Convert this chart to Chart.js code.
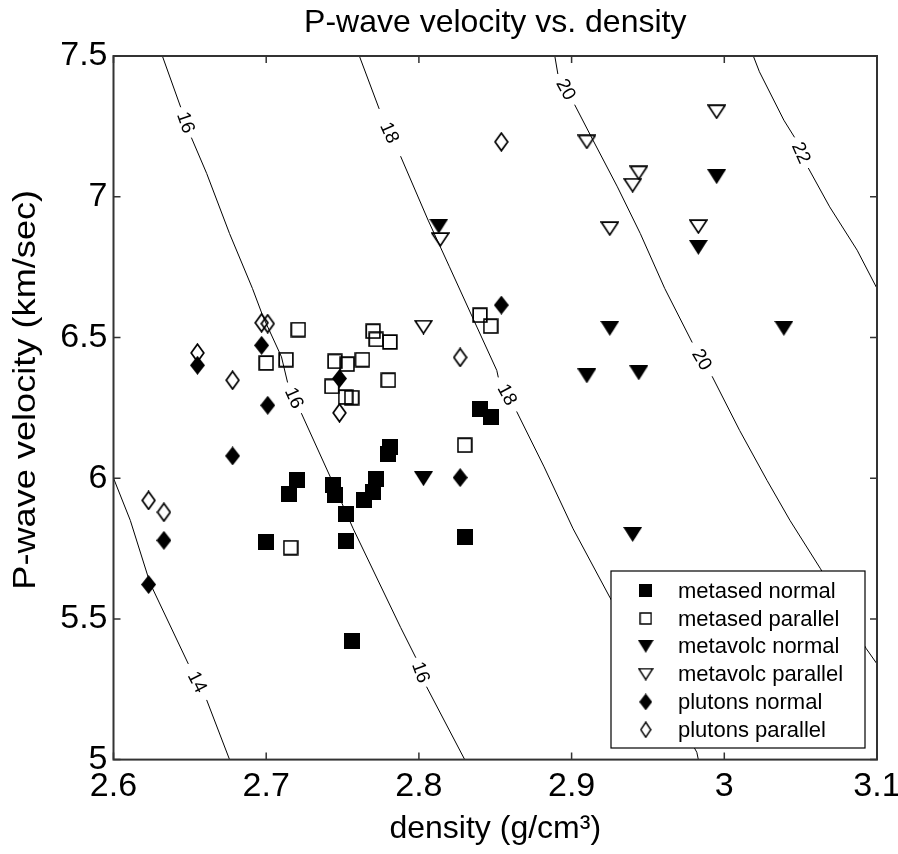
<!DOCTYPE html>
<html>
<head>
<meta charset="utf-8">
<title>P-wave velocity vs. density</title>
<script src="https://cdn.jsdelivr.net/npm/chart.js@4.4.1/dist/chart.umd.min.js"></script>
<style>
  html, body { margin: 0; padding: 0; background: #fff; }
  #chart { display: block; }
</style>
</head>
<body>
<canvas id="chart" width="898" height="854"></canvas>
<script>
// Measured samples: [density (g/cm3), P-wave velocity (km/s)]
const metasedNormal = [
  [2.700, 5.772], [2.715, 5.945], [2.720, 5.995], [2.744, 5.974], [2.745, 5.939],
  [2.752, 5.874], [2.752, 5.776], [2.756, 5.423], [2.764, 5.924], [2.770, 5.951],
  [2.772, 5.998], [2.780, 6.087], [2.781, 6.111], [2.830, 5.791], [2.840, 6.247],
  [2.847, 6.217]
];
const metasedParallel = [
  [2.700, 6.409], [2.713, 6.421], [2.716, 5.753], [2.721, 6.528], [2.743, 6.326],
  [2.745, 6.415], [2.752, 6.288], [2.753, 6.405], [2.756, 6.286], [2.763, 6.421],
  [2.770, 6.522], [2.772, 6.493], [2.780, 6.348], [2.781, 6.484], [2.830, 6.117],
  [2.840, 6.579], [2.847, 6.540]
];
const metavolcNormal = [
  [2.803, 5.998], [2.813, 6.895], [2.910, 6.363], [2.925, 6.532], [2.940, 5.800],
  [2.944, 6.374], [2.983, 6.820], [2.995, 7.071], [3.039, 6.532]
];
const metavolcParallel = [
  [2.803, 6.537], [2.814, 6.848], [2.910, 7.195], [2.925, 6.887], [2.940, 7.041],
  [2.944, 7.085], [2.983, 6.894], [2.995, 7.302]
];
const plutonsNormal = [
  [2.623, 5.622], [2.633, 5.779], [2.655, 6.401], [2.678, 6.079], [2.697, 6.472],
  [2.701, 6.259], [2.748, 6.354], [2.827, 6.002], [2.854, 6.615]
];
const plutonsParallel = [
  [2.623, 5.921], [2.633, 5.879], [2.655, 6.445], [2.678, 6.348], [2.697, 6.552],
  [2.701, 6.549], [2.748, 6.232], [2.827, 6.429], [2.854, 7.195]
];

// Axis ticks
const xTickValues = [2.6, 2.7, 2.8, 2.9, 3.0, 3.1];
const xTickLabels = ['2.6', '2.7', '2.8', '2.9', '3', '3.1'];
const yTickValues = [5, 5.5, 6, 6.5, 7, 7.5];
const yTickLabels = ['5', '5.5', '6', '6.5', '7', '7.5'];

// Impedance contours; each is split into segments where an inline level label sits
const contour14 = [
  [[2.600, 6.000], [2.611, 5.850], [2.624, 5.626], [2.649, 5.340]],
  [[2.661, 5.212], [2.676, 5.000]]
];
const contour16 = [
  [[2.632, 7.500], [2.644, 7.318]],
  [[2.651, 7.210], [2.661, 7.083], [2.676, 6.869], [2.691, 6.674], [2.698, 6.573],
   [2.710, 6.431], [2.714, 6.340]],
  [[2.723, 6.231], [2.742, 6.004], [2.757, 5.820], [2.788, 5.470], [2.798, 5.362]],
  [[2.805, 5.259], [2.830, 5.000]]
];
const contour18 = [
  [[2.761, 7.500], [2.774, 7.312]],
  [[2.788, 7.144], [2.806, 6.917], [2.820, 6.751], [2.838, 6.537], [2.851, 6.383],
   [2.852, 6.358]],
  [[2.864, 6.237], [2.882, 6.040], [2.901, 5.820], [2.925, 5.577], [2.982, 5.026],
   [2.983, 5.000]]
];
const contour20 = [
  [[2.889, 7.500], [2.891, 7.436]],
  [[2.902, 7.327], [2.914, 7.201], [2.930, 7.035], [2.945, 6.869], [2.961, 6.674],
   [2.979, 6.482]],
  [[2.992, 6.362], [3.010, 6.170], [3.028, 5.992], [3.043, 5.850], [3.063, 5.678],
   [3.093, 5.394], [3.100, 5.340]]
];
const contour22 = [
  [[3.019, 7.500], [3.023, 7.444], [3.039, 7.272], [3.046, 7.211]],
  [[3.055, 7.102], [3.069, 6.964], [3.087, 6.810], [3.100, 6.674]]
];
const contourLevels = ['14', '16', '18', '20', '22'];
const contourLines = [contour14, contour16, contour18, contour20, contour22];

const FONT = "'Liberation Sans', Arial, Helvetica, sans-serif";
const Y_TITLE = 'P-wave velocity (km/sec)';

// Marker glyphs drawn once into small canvases
function markerCanvas(shape, filled, w, h, lw) {
  const c = document.createElement('canvas');
  c.width = w; c.height = h;
  const g = c.getContext('2d');
  g.fillStyle = '#000';
  g.strokeStyle = '#000';
  g.lineWidth = lw;
  g.lineJoin = 'miter';
  const i = filled ? 0 : lw / 2 + 0.3;
  g.beginPath();
  if (shape === 'square') {
    g.rect(i, i, w - 2 * i, h - 2 * i);
  } else if (shape === 'triangleDown') {
    g.moveTo(i, i);
    g.lineTo(w - i, i);
    g.lineTo(w / 2, h - i);
    g.closePath();
  } else {
    g.moveTo(w / 2, i);
    g.lineTo(w - i, h / 2);
    g.lineTo(w / 2, h - i);
    g.lineTo(i, h / 2);
    g.closePath();
  }
  if (filled) g.fill(); else g.stroke();
  return c;
}

const series = [
  { label: 'metased normal',    data: metasedNormal,    shape: 'square',       filled: true,  size: [16, 16], key: [13, 13] },
  { label: 'metased parallel',  data: metasedParallel,  shape: 'square',       filled: false, size: [16, 16], key: [13, 13] },
  { label: 'metavolc normal',   data: metavolcNormal,   shape: 'triangleDown', filled: true,  size: [19, 15], key: [16, 13] },
  { label: 'metavolc parallel', data: metavolcParallel, shape: 'triangleDown', filled: false, size: [19, 15], key: [16, 13] },
  { label: 'plutons normal',    data: plutonsNormal,    shape: 'diamond',      filled: true,  size: [15, 19], key: [13, 17] },
  { label: 'plutons parallel',  data: plutonsParallel,  shape: 'diamond',      filled: false, size: [15, 20], key: [12, 17] }
];

const datasets = [];
contourLines.forEach((segments, li) => {
  segments.forEach(seg => {
    datasets.push({
      label: 'contour ' + contourLevels[li],
      data: seg.map(([x, y]) => ({ x, y })),
      showLine: true,
      pointRadius: 0,
      borderColor: '#000',
      borderWidth: 1,
      tension: 0,
      order: 20
    });
  });
});
series.forEach((s, i) => {
  datasets.push({
    label: s.label,
    data: s.data.map(([x, y]) => ({ x, y })),
    pointStyle: markerCanvas(s.shape, s.filled, s.size[0], s.size[1], 1.7),
    legendMarker: markerCanvas(s.shape, s.filled, s.key[0], s.key[1], 1.4),
    pointRadius: 9,
    showLine: false,
    order: series.length - i
  });
});

// Axes box with inward tick marks on all four sides
const framePlugin = {
  id: 'frame',
  afterDatasetsDraw(chart) {
    const { ctx, chartArea: a, scales: { x, y } } = chart;
    const tick = 7;
    ctx.save();
    ctx.strokeStyle = '#333';
    ctx.lineWidth = 2;
    ctx.strokeRect(a.left, a.top, a.right - a.left, a.bottom - a.top);
    ctx.lineWidth = 1.5;
    ctx.beginPath();
    xTickValues.forEach(v => {
      const px = x.getPixelForValue(v);
      ctx.moveTo(px, a.bottom); ctx.lineTo(px, a.bottom - tick);
      ctx.moveTo(px, a.top); ctx.lineTo(px, a.top + tick);
    });
    yTickValues.forEach(v => {
      const py = y.getPixelForValue(v);
      ctx.moveTo(a.left, py); ctx.lineTo(a.left + tick, py);
      ctx.moveTo(a.right, py); ctx.lineTo(a.right - tick, py);
    });
    ctx.stroke();
    ctx.restore();
  }
};

// Inline level labels placed in the breaks between contour segments
const contourLabelPlugin = {
  id: 'contourLabels',
  afterDatasetsDraw(chart) {
    const { ctx, scales: { x, y } } = chart;
    ctx.save();
    ctx.font = '19px ' + FONT;
    ctx.fillStyle = '#000';
    ctx.textAlign = 'center';
    ctx.textBaseline = 'middle';
    contourLines.forEach((segments, li) => {
      for (let i = 0; i < segments.length - 1; i++) {
        const p = segments[i][segments[i].length - 1];
        const q = segments[i + 1][0];
        const ax = x.getPixelForValue(p[0]), ay = y.getPixelForValue(p[1]);
        const bx = x.getPixelForValue(q[0]), by = y.getPixelForValue(q[1]);
        ctx.save();
        ctx.translate((ax + bx) / 2, (ay + by) / 2);
        ctx.rotate(Math.atan2(by - ay, bx - ax));
        ctx.fillText(contourLevels[li], 0, 1);
        ctx.restore();
      }
    });
    ctx.restore();
  }
};

// Vertical axis title, set upright along the left edge
const yTitlePlugin = {
  id: 'yTitle',
  afterDraw(chart) {
    const { ctx, chartArea: a } = chart;
    ctx.save();
    ctx.translate(26, (a.top + a.bottom) / 2 - 18);
    ctx.rotate(-Math.PI / 2);
    ctx.scale(1.13, 1);
    ctx.font = '32px ' + FONT;
    ctx.fillStyle = '#000';
    ctx.textAlign = 'center';
    ctx.textBaseline = 'middle';
    ctx.fillText(Y_TITLE, 0, 0);
    ctx.restore();
  }
};

// Boxed key in the lower-right corner of the plot
const keyPlugin = {
  id: 'keyBox',
  afterDraw(chart) {
    const { ctx, chartArea: a } = chart;
    const w = 254, h = 177;
    const x0 = a.right - 12 - w;
    const y0 = a.bottom - 11.6 - h;
    ctx.save();
    ctx.fillStyle = '#fff';
    ctx.fillRect(x0, y0, w, h);
    ctx.strokeStyle = '#000';
    ctx.lineWidth = 1.2;
    ctx.strokeRect(x0, y0, w, h);
    ctx.font = '22px ' + FONT;
    ctx.fillStyle = '#000';
    ctx.textAlign = 'left';
    ctx.textBaseline = 'middle';
    const entries = chart.data.datasets.filter(d => d.legendMarker);
    entries.forEach((d, i) => {
      const cy = y0 + 19.7 + i * 27.8;
      const m = d.legendMarker;
      ctx.drawImage(m, x0 + 34.7 - m.width / 2, cy - m.height / 2);
      ctx.fillText(d.label, x0 + 67, cy + 1);
    });
    ctx.restore();
  }
};

Chart.defaults.font.family = FONT;
Chart.defaults.color = '#000';

new Chart(document.getElementById('chart'), {
  type: 'scatter',
  data: { datasets },
  options: {
    responsive: false,
    animation: false,
    devicePixelRatio: 1,
    layout: { padding: { left: 0, top: 0, right: 21, bottom: 0 } },
    plugins: {
      legend: { display: false },
      tooltip: { enabled: false },
      title: {
        display: true,
        text: 'P-wave velocity vs. density',
        fullSize: false,
        color: '#000',
        font: { family: FONT, size: 32, weight: 'normal' },
        padding: { top: 4, bottom: 13.6 }
      }
    },
    scales: {
      x: {
        type: 'linear',
        min: 2.6,
        max: 3.1,
        afterBuildTicks: s => { s.ticks = xTickValues.map(v => ({ value: v })); },
        afterFit: s => { s.height = 94.4; s.paddingLeft = 0; s.paddingRight = 0; },
        ticks: {
          autoSkip: false,
          maxRotation: 0,
          padding: 7,
          font: { family: FONT, size: 34 },
          callback: (v, i) => xTickLabels[i]
        },
        grid: { display: false, drawTicks: false },
        border: { display: false },
        title: {
          display: true,
          text: 'density (g/cm³)',
          font: { family: FONT, size: 32 },
          padding: { top: 0, bottom: 6 }
        }
      },
      y: {
        type: 'linear',
        min: 5,
        max: 7.5,
        afterBuildTicks: s => { s.ticks = yTickValues.map(v => ({ value: v })); },
        afterFit: s => { s.width = 113.5; s.paddingTop = 0; s.paddingBottom = 0; },
        ticks: {
          autoSkip: false,
          padding: 6,
          font: { family: FONT, size: 34 },
          callback: (v, i) => yTickLabels[i]
        },
        grid: { display: false, drawTicks: false },
        border: { display: false },
        title: { display: false, text: Y_TITLE }
      }
    }
  },
  plugins: [framePlugin, contourLabelPlugin, yTitlePlugin, keyPlugin]
});
</script>
</body>
</html>
